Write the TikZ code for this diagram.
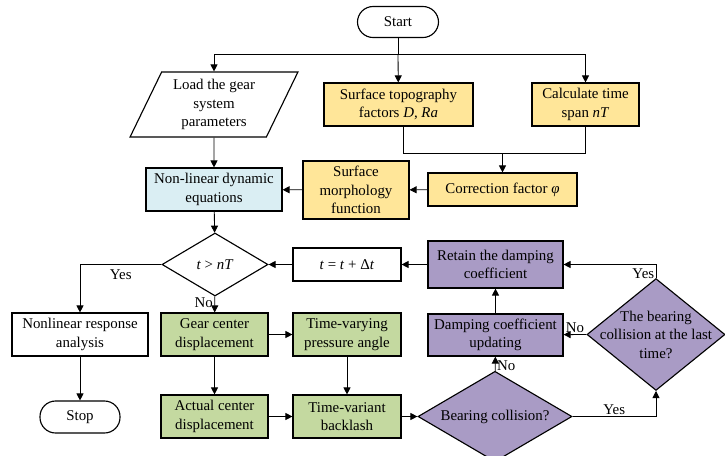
\documentclass[tikz,border=0pt]{standalone}
\usepackage{fontspec}
\setmainfont{Liberation Serif}
\usetikzlibrary{shapes.geometric}
\usetikzlibrary{arrows.meta}

\definecolor{yelfill}{HTML}{FFE699}
\definecolor{bluefill}{HTML}{DAEEF3}
\definecolor{greenfill}{HTML}{C4D9A0}
\definecolor{purpfill}{HTML}{A99BC5}

\begin{document}
\begin{tikzpicture}[x=0.025cm, y=-0.025cm,
            font=\fontsize{10.6}{13.2}\selectfont,
            box/.style={draw, line width=0.8pt, align=center, inner sep=1pt,
                minimum height=1.075cm},
            term/.style={box, rounded corners=0.39cm, minimum height=0.8cm},
            decide/.style={draw, line width=0.8pt, diamond, align=center,
                inner sep=0pt, fill=purpfill},
            arr/.style={line width=0.6pt, -{Triangle[length=5pt, width=5pt]}},
            ln/.style={line width=0.6pt}]
            \useasboundingbox (0, 0) rectangle (725, 455);
            % top part
            \node [term, minimum width=2.025cm, minimum height=0.775cm] (start) at (398, 22) {Start};
            \node [draw, line width=0.8pt, trapezium, trapezium left angle=64,
                trapezium right angle=116, trapezium stretches=true,
                minimum width=4.2cm, minimum height=1.625cm, align=center,
                inner sep=0pt] (load) at (214, 104.5) {Load the gear\\system\\parameters};
            \node [box, fill=yelfill, minimum width=3.725cm] (topo) at (398.5, 104.5) {Surface topography\\factors \textit{D}, \textit{Ra}};
            \node [box, fill=yelfill, minimum width=2.675cm] (span) at (585.5, 104.5) {Calculate time\\span \textit{nT}};
            \node [box, fill=yelfill, minimum width=3.725cm, minimum height=0.825cm] (corr) at (502.5, 189.5) {Correction factor \textit{φ}};
            \node [box, fill=yelfill, minimum width=2.65cm, minimum height=1.45cm] (morph) at (356, 190) {Surface\\morphology\\function};
            \node [box, fill=bluefill, minimum width=3.4cm] (dyn) at (214, 189.5) {Non-linear dynamic\\equations};
            \coordinate (fork) at (398, 54);
            \coordinate (join) at (502.5, 153);
            % loop
            \node [decide, fill=white, minimum width=2.65cm, minimum height=1.575cm] (check) at (215, 264.5) {\textit{t} > \textit{nT}};
            \node [box, minimum width=2.7cm, minimum height=0.825cm] (incr) at (347, 264.5) {\textit{t} = \textit{t} + Δ\textit{t}};
            \node [box, fill=purpfill, minimum width=3.375cm, minimum height=1.175cm] (retain) at (495.5, 264.5) {Retain the damping\\coefficient};
            \node [box, minimum width=3.4cm] (resp) at (80, 334.5) {Nonlinear response\\analysis};
            \node [term, minimum width=2cm] (stop) at (80, 417) {Stop};
            \node [box, fill=greenfill, minimum width=2.675cm] (gearc) at (214.5, 334.5) {Gear center\\displacement};
            \node [box, fill=greenfill, minimum width=2.7cm] (press) at (347, 334.5) {Time-varying\\pressure angle};
            \node [box, fill=greenfill, minimum width=2.675cm] (actual) at (214.5, 416.5) {Actual center\\displacement};
            \node [box, fill=greenfill, minimum width=2.7cm] (backl) at (347, 416.5) {Time-variant\\backlash};
            \node [decide, inner sep=-0.2cm, minimum width=3.85cm, minimum height=1.95cm] (coll) at (495, 416.5) {Bearing collision?};
            \node [box, fill=purpfill, minimum width=3.375cm, minimum height=1.05cm] (upd) at (495.5, 335) {Damping coefficient\\updating};
            \node [decide, inner sep=-0.3cm, minimum width=3.45cm, minimum height=2.575cm] (last) at (656, 334.5) {The bearing\\collision at the last\\time?};
            % connectors
            \draw [ln] (start) -- (fork);
            \draw [arr] (fork) -| (load);
            \draw [arr] (fork) -- (topo);
            \draw [arr] (fork) -| (span);
            \draw [ln] ([xshift=0.12cm]topo.south) |- (join);
            \draw [ln] (span) |- (join);
            \draw [arr] (join) -- (corr);
            \draw [arr] (corr) -- (morph);
            \draw [arr] (morph) -- (dyn);
            \draw [arr] (load) -- (dyn);
            \draw [arr] (dyn) -- (check);
            \draw [arr] (retain) -- (incr);
            \draw [arr] (incr) -- (check);
            \draw [arr] (check.west) -| node [pos=0.25, below] {Yes} (resp);
            \draw [arr] (check) -- node [pos=0.4, left, inner sep=1pt] {No} (gearc);
            \draw [arr] (resp) -- (stop);
            \draw [arr] (gearc) -- (press);
            \draw [arr] (gearc) -- (actual);
            \draw [arr] (press) -- (backl);
            \draw [arr] (actual) -- (backl);
            \draw [arr] (backl) -- (coll);
            \draw [arr] (coll) -- node [pos=0.35, right, inner sep=1pt] {No} (upd);
            \draw [arr] (coll.east) -| node [pos=0.25, above, inner sep=1pt] {Yes} (last);
            \draw [arr] (last.west) -- node [above, inner sep=1pt] {No} (upd);
            \draw [arr] (last.north) |- node [pos=0.15, left, inner sep=1pt] {Yes} (retain);
            \draw [arr] (upd) -- (retain);
        \end{tikzpicture}
\end{document}
